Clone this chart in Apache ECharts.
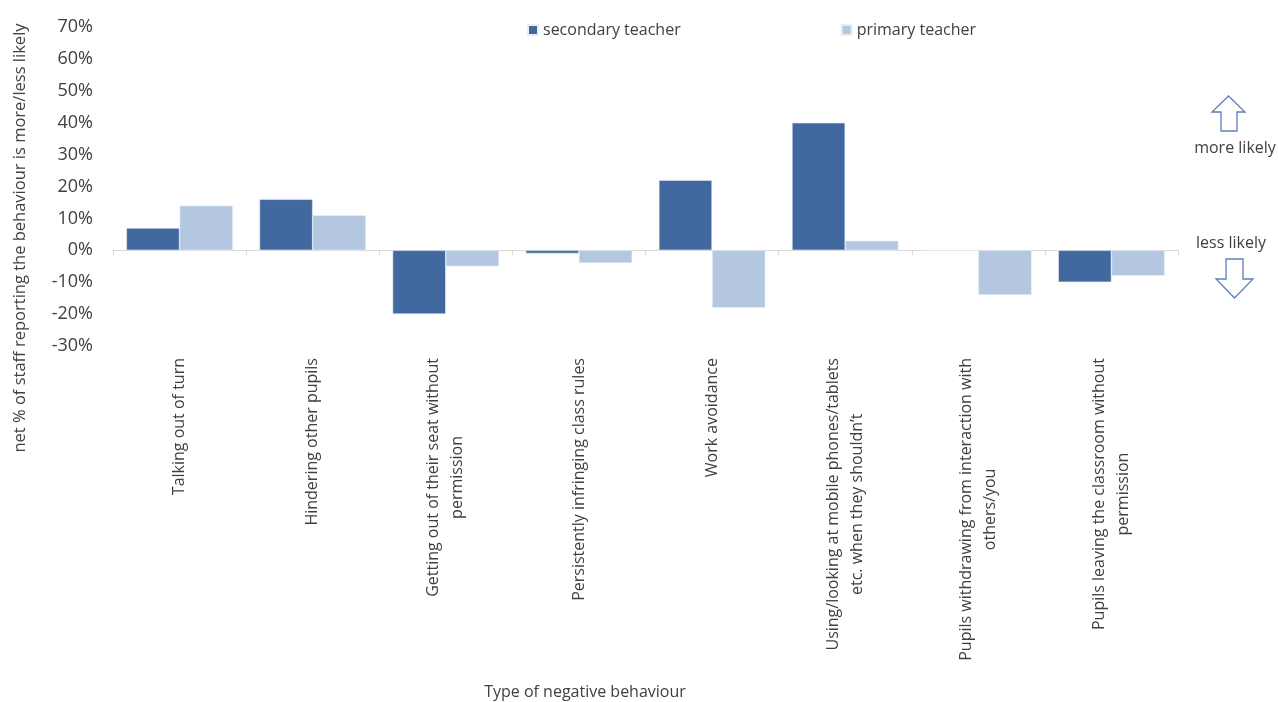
<!DOCTYPE html>
<html>
<head>
<meta charset="utf-8">
<script src="https://cdn.jsdelivr.net/npm/echarts@6/dist/echarts.min.js"></script>
<style>
html,body{margin:0;padding:0;background:#fff;}
#chart{width:1278px;height:702px;}
</style>
</head>
<body>
<div id="chart"></div>
<script>
const categories = [
  "Talking out of turn",
  "Hindering other pupils",
  "Getting out of their seat without\npermission",
  "Persistently infringing class rules",
  "Work avoidance",
  "Using/looking at mobile phones/tablets\netc. when they shouldn’t",
  "Pupils withdrawing from interaction with\nothers/you",
  "Pupils leaving the classroom without\npermission"
];
const seriesNames = ["secondary teacher", "primary teacher"];
const secondaryValues = [7, 16, -20, -1, 22, 40, 0, -10];
const primaryValues = [14, 11, -5, -4, -18, 3, -14, -8];
const yTicks = { min: -30, max: 70, interval: 10 };
const yAxisTitle = "net % of staff reporting the behaviour is more/less likely";
const xAxisTitle = "Type of negative behaviour";
const noteMore = "more likely";
const noteLess = "less likely";

const FONT = "'Open Sans', 'Noto Sans', sans-serif";
const TEXT = "#404040";
const DARK = "#41699f";
const LIGHT = "#b4c7e0";
const ARROW = "#5b7fb8";

const chart = echarts.init(document.getElementById('chart'), null, { renderer: 'canvas' });
chart.setOption({
  animation: false,
  backgroundColor: '#ffffff',
  textStyle: { fontFamily: FONT, color: TEXT },
  legend: {
    data: seriesNames,
    left: 522, top: 17,
    itemWidth: 10, itemHeight: 10, itemGap: 160,
    icon: 'rect',
    textStyle: { fontFamily: FONT, fontSize: 16, color: TEXT }
  },
  grid: { left: 113, right: 100, top: 27, bottom: 356, containLabel: false, outerBoundsMode: 'none' },
  xAxis: {
    type: 'category',
    data: categories,
    axisLine: { onZero: true, lineStyle: { color: '#d9d9d9', width: 1 } },
    axisTick: { show: true, length: 5, lineStyle: { color: '#d9d9d9' } },
    axisLabel: {
      interval: 0, rotate: 90, margin: 12,
      fontFamily: FONT, fontSize: 16, color: TEXT,
      formatter: function (v) { return v.split('\n').map(function (l) { return '{c|' + l + '}'; }).join('\n'); },
      rich: { c: { align: 'center', fontFamily: FONT, fontSize: 16, color: TEXT, lineHeight: 24 } }
    }
  },
  yAxis: {
    type: 'value',
    min: yTicks.min, max: yTicks.max, interval: yTicks.interval,
    axisLine: { show: false },
    axisTick: { show: false },
    splitLine: { show: false },
    axisLabel: { formatter: '{value}%', margin: 20, fontFamily: FONT, fontSize: 18, color: TEXT }
  },
  series: [
    { name: seriesNames[0], type: 'bar', data: secondaryValues, barGap: '0%', barCategoryGap: '20%',
      itemStyle: { color: DARK, borderColor: '#e8eef6', borderWidth: 0.6 } },
    { name: seriesNames[1], type: 'bar', data: primaryValues, barGap: '0%', barCategoryGap: '20%',
      itemStyle: { color: LIGHT, borderColor: '#e8eef6', borderWidth: 0.6 } }
  ],
  graphic: [
    { type: 'text', x: 20, y: 238, rotation: Math.PI / 2,
      style: { text: yAxisTitle, fontFamily: FONT, fontSize: 16.5, fill: TEXT, align: 'center', verticalAlign: 'middle' } },
    { type: 'text', x: 585, y: 692,
      style: { text: xAxisTitle, fontFamily: FONT, fontSize: 16, fill: TEXT, align: 'center', verticalAlign: 'middle' } },
    { type: 'text', x: 1235, y: 148,
      style: { text: noteMore, fontFamily: FONT, fontSize: 16, fill: TEXT, align: 'center', verticalAlign: 'middle' } },
    { type: 'text', x: 1231, y: 243,
      style: { text: noteLess, fontFamily: FONT, fontSize: 16, fill: TEXT, align: 'center', verticalAlign: 'middle' } },
    { type: 'polygon',
      shape: { points: [[1228.5, 96], [1245, 112], [1237, 112], [1237, 131], [1221, 131], [1221, 112], [1212, 112]] },
      style: { fill: '#fff', stroke: ARROW, lineWidth: 1.3 } },
    { type: 'polygon',
      shape: { points: [[1226, 259], [1243, 259], [1243, 279], [1253, 279], [1234.5, 298], [1216, 279], [1226, 279]] },
      style: { fill: '#fff', stroke: ARROW, lineWidth: 1.3 } }
  ]
});
</script>
</body>
</html>
